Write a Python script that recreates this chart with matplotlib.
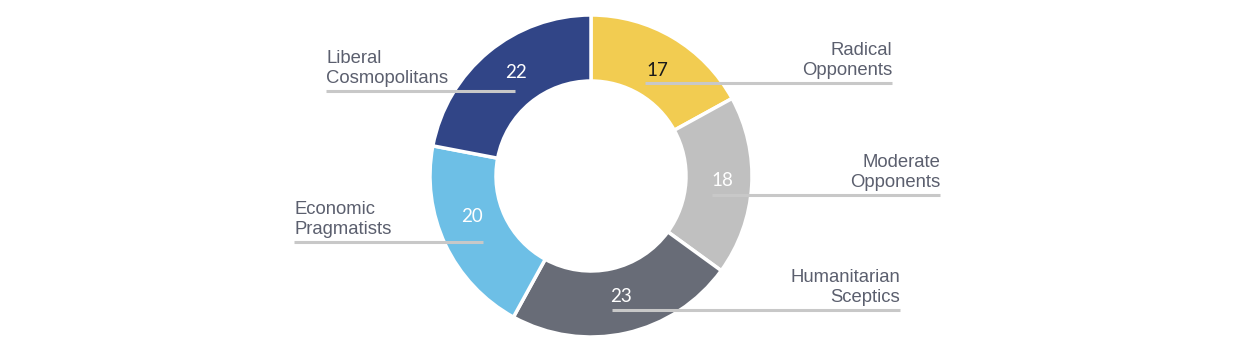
import matplotlib
matplotlib.use('Agg')
import matplotlib.pyplot as plt

# data
segments = ['Radical\nOpponents', 'Moderate\nOpponents', 'Humanitarian\nSceptics',
            'Economic\nPragmatists', 'Liberal\nCosmopolitans']
values = [17, 18, 23, 20, 22]
colors = ['#f2cc51', '#c0c0c0', '#686c77', '#6dbfe6', '#314587']
num_colors = ['#1a1a1a', 'white', 'white', 'white', 'white']

# layout in pixels (x, y from top): number pos, leader line y, line x0, x1, side
W, H = 1238, 362
layout = [
    ((657, 70), 83, 645, 892, 'right'),
    ((722, 181), 195, 712, 940, 'right'),
    ((621, 296), 310, 612, 900, 'right'),
    ((472, 216), 242, 294, 483, 'left'),
    ((516, 72), 91, 326, 515, 'left'),
]

def fy(y):
    return H - y

fig = plt.figure(figsize=(W / 100, H / 100), dpi=100)
ax = fig.add_axes([0, 0, 1, 1])

ax.pie(values, colors=colors, startangle=90, counterclock=False,
       center=(591, fy(176)), radius=161, frame=True,
       wedgeprops=dict(width=66, edgecolor='white', linewidth=2.5))
ax.set_xlim(0, W)
ax.set_ylim(0, H)
ax.axis('off')

txt_color = '#5b5f6e'
for name, v, nc, (npos, ly, x0, x1, side) in zip(segments, values, num_colors, layout):
    ax.plot([x0, x1], [fy(ly), fy(ly)], color='#c8c8c8', lw=2.2,
            solid_capstyle='butt', zorder=3)
    ax.text(npos[0], fy(npos[1]), str(v), color=nc, fontsize=13.5,
            family='Lato', ha='center', va='center', zorder=4)
    tx = x1 if side == 'right' else x0
    ax.text(tx, fy(ly) + 4, name, color=txt_color, fontsize=13.3,
            family='Liberation Sans', ha=side, va='bottom',
            linespacing=1.22, zorder=4)

fig.savefig('out.png', dpi=100)
